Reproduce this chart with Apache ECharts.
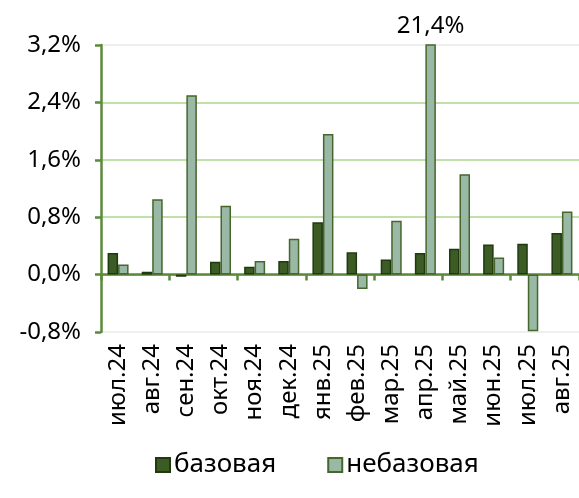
<!DOCTYPE html>
<html><head><meta charset="utf-8">
<script src="https://cdn.jsdelivr.net/npm/echarts@6/dist/echarts.min.js"></script>
<style>html,body{margin:0;padding:0;background:#fff}#c{width:579px;height:498px}</style>
</head><body><div id="c"></div>
<script>
const categories = ['июл.24','авг.24','сен.24','окт.24','ноя.24','дек.24','янв.25','фев.25','мар.25','апр.25','май.25','июн.25','июл.25','авг.25'];
const baseValues = [0.30, 0.04, -0.03, 0.18, 0.11, 0.19, 0.73, 0.31, 0.21, 0.30, 0.36, 0.42, 0.43, 0.58];
const nonBaseValues = [0.14, 1.05, 2.50, 0.96, 0.19, 0.50, 1.96, -0.20, 0.75, 21.4, 1.40, 0.24, -0.79, 0.88];
const seriesNames = ['базовая', 'небазовая'];
const yTicks = [-0.8, 0.0, 0.8, 1.6, 2.4, 3.2];

const FONT = 'Noto Sans';
const fmt = v => v.toFixed(1).replace('.', ',') + '%';
const axisGreen = '#5b8a3a';
const gridGreen = '#bfe0a8';
const maxY = yTicks[yTicks.length - 1];

const chart = echarts.init(document.getElementById('c'));
const clippedIdx = nonBaseValues.findIndex(v => v > maxY);

chart.setOption({
  animation: false,
  textStyle: { fontFamily: FONT },
  grid: { left: 101, right: -2, top: 45, bottom: 166, containLabel: false },
  legend: {
    bottom: 15, left: 150, itemGap: 51, itemWidth: 14, itemHeight: 14,
    icon: 'rect',
    textStyle: { fontFamily: FONT, fontSize: 26, color: '#000', padding: [0, 0, 0, -1] },
    data: seriesNames
  },
  xAxis: [{
    type: 'category', data: categories, position: 'bottom',
    axisLine: { onZero: true, lineStyle: { color: axisGreen, width: 2.5 } },
    axisTick: { show: true, length: 6, lineStyle: { color: axisGreen, width: 2.5 } },
    axisLabel: { show: false }
  }, {
    type: 'category', data: categories, position: 'bottom',
    axisLine: { show: false, onZero: false },
    axisTick: { show: false },
    axisLabel: { rotate: 90, fontFamily: FONT, fontSize: 24, color: '#000', margin: 12, interval: 0 }
  }],
  yAxis: {
    type: 'value', min: yTicks[0], max: maxY, interval: 0.8,
    axisLine: { show: true, lineStyle: { color: axisGreen, width: 2.5 } },
    axisTick: { show: true, length: 6, lineStyle: { color: axisGreen, width: 2.5 } },
    axisLabel: { formatter: fmt, fontFamily: FONT, fontSize: 24, color: '#000', margin: 20 },
    splitLine: { show: true, lineStyle: { color: ['#eef0ec', gridGreen, gridGreen, gridGreen, gridGreen, '#eef0ec'], width: 2 } }
  },
  series: [{
    name: seriesNames[0], type: 'bar', xAxisIndex: 0, data: baseValues,
    barWidth: 10.5, barGap: '0%',
    itemStyle: { color: '#3d5b25', borderColor: '#1f3a0e', borderWidth: 1.5 }
  }, {
    name: seriesNames[1], type: 'bar', xAxisIndex: 0,
    data: nonBaseValues, barWidth: 10.5, clip: true,
    itemStyle: { color: '#9ab8a6', borderColor: '#46662c', borderWidth: 1.5 },
    markPoint: {
      symbol: 'rect', symbolSize: 1, itemStyle: { color: 'rgba(0,0,0,0)' },
      label: { show: true, position: 'top', distance: 6, formatter: fmt(nonBaseValues[clippedIdx]),
        fontFamily: FONT, fontSize: 24, color: '#000' },
      data: [{ coord: [clippedIdx, maxY] }]
    }
  }]
});
</script></body></html>
